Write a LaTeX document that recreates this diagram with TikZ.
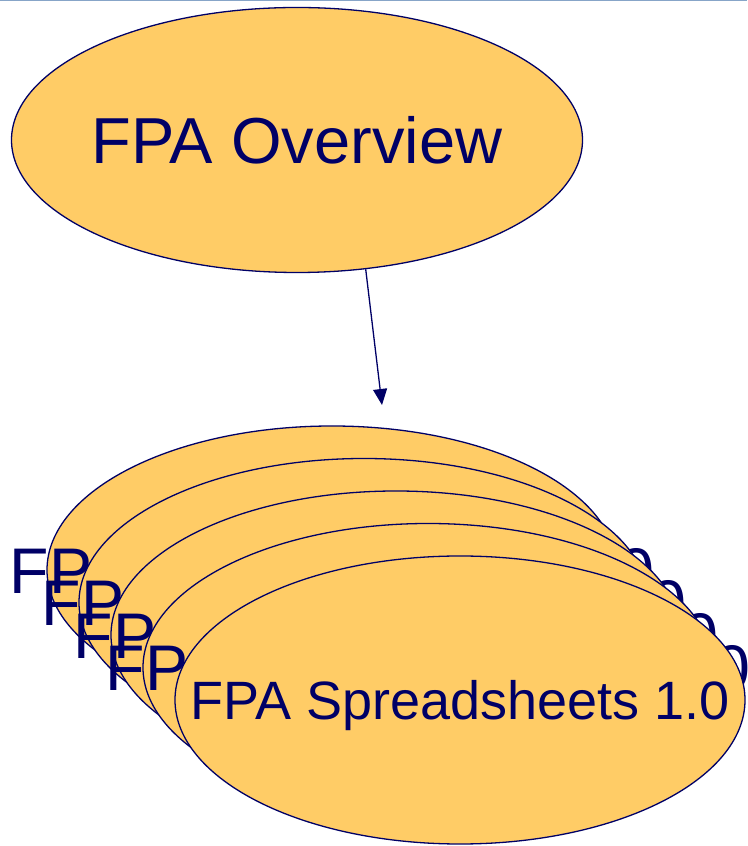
\documentclass[tikz,border=0pt]{standalone}
\usepackage{fontspec}
\setmainfont{Liberation Sans}
\usepackage{tikz}
\usetikzlibrary{positioning,shapes.geometric,arrows.meta}
\definecolor{navy}{RGB}{0,0,102}
\definecolor{sand}{RGB}{255,204,102}
\definecolor{rule}{RGB}{135,165,200}
\newcommand{\sheettxt}{\makebox[0pt]{FPA Spreadsheets 1.0}}
\begin{document}
\begin{tikzpicture}[x=1pt,y=1pt,
    ov/.style={ellipse,draw=navy,fill=sand,line width=1.3pt,inner sep=0pt,
        minimum width=571pt,minimum height=265pt,text=navy,text depth=0pt,
        font=\fontsize{65}{72}\selectfont},
    sheet/.style={ellipse,draw=navy,fill=sand,line width=1.3pt,inner sep=0pt,
        minimum width=570pt,minimum height=288pt,text=navy,text depth=0pt,
        font=\fontsize{64.5}{72}\selectfont},
    node distance=32.5pt and 32pt,on grid]
    \useasboundingbox (0,0) rectangle (747,846);
    \draw[rule,line width=2pt] (0,845.5) -- (747,845.5);
    \node[ov] (ovw) at (297,706) {\makebox[0pt]{FPA Overview}};
    \node[sheet] (s1)[below right=430pt and 35pt of ovw]{\sheettxt};
    \node[sheet] (s2)[below right=of s1]{\sheettxt};
    \node[sheet] (s3)[below right=of s2]{\sheettxt};
    \node[sheet] (s4)[below right=of s3]{\sheettxt};
    \node[sheet,font=\fontsize{54}{60}\selectfont] (s5)[below right=of s4]{\sheettxt};
    \coordinate (tip) at (382,441);
    \draw[navy,line width=1.3pt,-{Triangle[length=16pt,width=14pt]}] (ovw.-62) -- (tip);
\end{tikzpicture}
\end{document}
